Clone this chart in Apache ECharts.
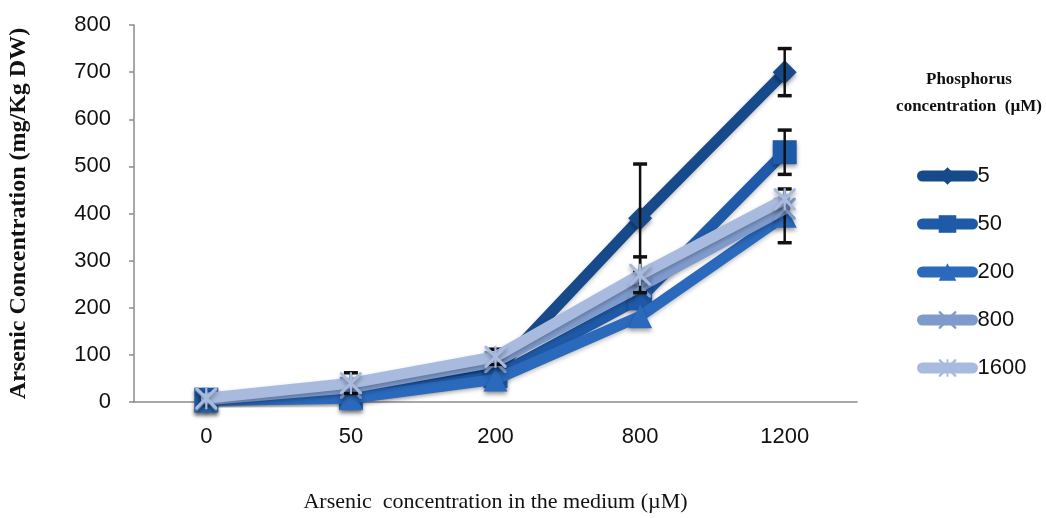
<!DOCTYPE html>
<html>
<head>
<meta charset="utf-8">
<script src="https://cdn.jsdelivr.net/npm/echarts@6/dist/echarts.min.js"></script>
<style>html,body{margin:0;padding:0;background:#fff}#c{width:1046px;height:518px}</style>
</head>
<body>
<div id="c"></div>
<script>
var categories = ['0', '50', '200', '800', '1200'];
var seriesNames = ['5', '50', '200', '800', '1600'];
var s5    = [5, 15, 65, 390, 700];
var s50   = [5, 10, 55, 220, 530];
var s200  = [3, 8, 48, 182, 395];
var s800  = [5, 30, 85, 245, 410];
var s1600 = [8, 40, 96, 270, 430];
var err5    = [0, 0, 0, 115, 50];
var err50   = [0, 0, 0, 0, 47];
var err200  = [0, 0, 0, 0, 57];
var err800  = [0, 0, 0, 0, 0];
var err1600 = [0, 22, 16, 38, 0];
var yTicks = [0, 100, 200, 300, 400, 500, 600, 700, 800];

var values = [s5, s50, s200, s800, s1600];
var errs = [err5, err50, err200, err800, err1600];
var colors = ['#174a8a', '#1f5aa8', '#2a69bc', '#7f9bcd', '#a8bbdf'];
var xPath = 'path://M0,0 L2,0 L10,8 L18,0 L20,0 L20,2 L12,10 L20,18 L20,20 L18,20 L10,12 L2,20 L0,20 L0,18 L8,10 L0,2 Z';
var starPath = 'path://M0,0 L2,0 L10,8 L18,0 L20,0 L20,2 L12,10 L20,18 L20,20 L18,20 L10,12 L2,20 L0,20 L0,18 L8,10 L0,2 Z M9,0 L11,0 L11,20 L9,20 Z';
var symbols = ['diamond', 'rect', 'triangle', xPath, starPath];
var symbolSizes = [24, 24, 24, 22, 22];

var chart = echarts.init(document.getElementById('c'));
var series = [];
values.forEach(function (v, i) {
  series.push({
    name: seriesNames[i],
    type: 'line',
    data: v,
    symbol: symbols[i],
    symbolSize: symbolSizes[i],
    showSymbol: true,
    z: 2 + i * 2,
    lineStyle: { width: 11, color: colors[i], cap: 'round', join: 'round',
      shadowColor: 'rgba(0,0,0,0.25)', shadowBlur: 4, shadowOffsetY: 2 },
    itemStyle: { color: colors[i], borderWidth: 0,
      shadowColor: 'rgba(0,0,0,0.35)', shadowBlur: 4, shadowOffsetY: 3 },
    emphasis: { disabled: true }
  });
});
values.forEach(function (v, i) {
  var d = [];
  v.forEach(function (val, k) {
    if (errs[i][k] > 0) d.push([k, val - errs[i][k], val + errs[i][k]]);
  });
  series.push({
    type: 'custom',
    z: i < 4 ? 3 + i * 2 : 1 + i * 2,
    silent: true,
    data: d,
    renderItem: function (params, api) {
      var lo = api.coord([api.value(0), api.value(1)]);
      var hi = api.coord([api.value(0), api.value(2)]);
      var hw = 7;
      var st = { stroke: '#111', lineWidth: 2.5 };
      return { type: 'group', children: [
        { type: 'line', shape: { x1: lo[0], y1: lo[1], x2: hi[0], y2: hi[1] }, style: st },
        { type: 'line', shape: { x1: lo[0] - hw, y1: lo[1], x2: lo[0] + hw, y2: lo[1] }, style: { stroke: '#111', lineWidth: 3.5 } },
        { type: 'line', shape: { x1: hi[0] - hw, y1: hi[1], x2: hi[0] + hw, y2: hi[1] }, style: { stroke: '#111', lineWidth: 3.5 } }
      ] };
    }
  });
});

chart.setOption({
  animation: false,
  backgroundColor: '#fff',
  title: {
    text: 'Phosphorus\nconcentration  (µM)',
    left: 964, top: 61, textAlign: 'center',
    textStyle: { fontFamily: 'Liberation Serif', fontWeight: 'bold', fontSize: 17, lineHeight: 27, color: '#111' }
  },
  legend: {
    data: seriesNames,
    orient: 'vertical',
    left: 912, top: 160,
    itemWidth: 50, itemHeight: 22, itemGap: 26,
    lineStyle: { width: 11, cap: 'round' },
    textStyle: { fontFamily: 'Liberation Sans', fontSize: 22, color: '#111' },
    selectedMode: false
  },
  grid: { left: 134, right: 189, top: 25, bottom: 116, containLabel: false, outerBoundsMode: 'none' },
  xAxis: {
    type: 'category',
    data: categories,
    boundaryGap: true,
    name: 'Arsenic  concentration in the medium (µM)',
    nameLocation: 'middle',
    nameGap: 89,
    nameTextStyle: { fontFamily: 'Liberation Serif', fontSize: 22, color: '#111' },
    axisLine: { lineStyle: { color: '#8c8c8c', width: 1.5 } },
    axisTick: { show: false },
    axisLabel: { fontFamily: 'Liberation Sans', fontSize: 22, color: '#111', margin: 24 },
    splitLine: { show: false }
  },
  yAxis: {
    type: 'value',
    min: yTicks[0], max: yTicks[yTicks.length - 1], interval: 100,
    name: 'Arsenic Concentration (mg/Kg DW)',
    nameLocation: 'middle',
    nameRotate: 90,
    nameGap: 103,
    nameTextStyle: { fontFamily: 'Liberation Serif', fontWeight: 'bold', fontSize: 24, color: '#111' },
    axisLine: { show: true, lineStyle: { color: '#8c8c8c', width: 1.5 } },
    axisTick: { show: true, length: 5, lineStyle: { color: '#8c8c8c', width: 1.5 } },
    axisLabel: { fontFamily: 'Liberation Sans', fontSize: 22, color: '#111', margin: 23 },
    splitLine: { show: false }
  },
  series: series
});
</script>
</body>
</html>
